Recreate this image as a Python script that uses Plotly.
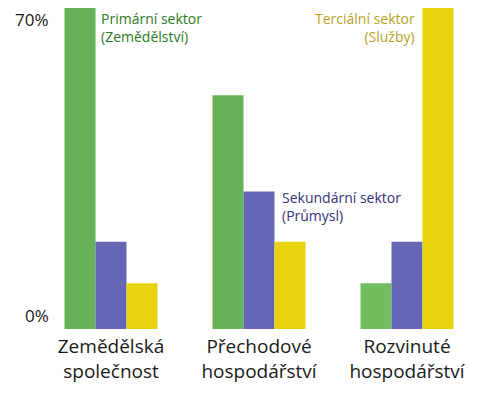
import plotly.graph_objects as go

categories = ["Zemědělská<br>společnost", "Přechodové<br>hospodářství", "Rozvinuté<br>hospodářství"]
primary = [70, 51, 10]
secondary = [19, 30, 19]
tertiary = [10, 19, 70]
series_names = ["Primární sektor<br>(Zemědělství)", "Sekundární sektor<br>(Průmysl)", "Terciální sektor<br>(Služby)"]
y_tick_labels = ["0%", "70%"]

FONT = "Open Sans"
fig = go.Figure()
fig.add_bar(x=categories, y=primary, name=series_names[0],
            marker=dict(color=["#65b257", "#65b257", "#72bc60"], line=dict(width=0)))
fig.add_bar(x=categories, y=secondary, name=series_names[1],
            marker=dict(color="#6667b4", line=dict(width=0)))
fig.add_bar(x=categories, y=tertiary, name=series_names[2],
            marker=dict(color="#e8d30e", line=dict(width=0)))

# y labels
fig.add_annotation(text=y_tick_labels[1], xref="paper", yref="y", x=0.029, y=70,
                   yshift=1, xanchor="right", yanchor="top", showarrow=False, borderpad=0,
                   font=dict(family=FONT, size=17, color="#1a1a1a"))
fig.add_annotation(text=y_tick_labels[0], xref="paper", yref="y", x=0.032, y=0,
                   xanchor="right", yanchor="bottom", showarrow=False,
                   font=dict(family=FONT, size=17, color="#1a1a1a"))

# series labels
fig.add_annotation(text=series_names[0], xref="x", yref="y", x=categories[0], y=70,
                   xshift=-11, yshift=0, xanchor="left", yanchor="top", align="left",
                   showarrow=False, borderpad=0,
                   font=dict(family=FONT, size=14, color="#2b7a26"))
fig.add_annotation(text=series_names[1], xref="x", yref="y", x=categories[1], y=30,
                   xshift=21, yshift=5, xanchor="left", yanchor="top", align="left", showarrow=False,
                   font=dict(family=FONT, size=14, color="#33317a"))
fig.add_annotation(text=series_names[2], xref="x", yref="y", x=categories[2], y=70,
                   xshift=9, yshift=0, xanchor="right", yanchor="top", align="right",
                   showarrow=False, borderpad=0,
                   font=dict(family=FONT, size=14, color="#b9a31e"))

# page body has an 8px margin; the figure is sized/offset to compensate
fig.update_layout(
    width=492, height=385,
    margin=dict(l=29, r=19, t=0, b=64, autoexpand=False),
    paper_bgcolor="white", plot_bgcolor="white",
    barmode="group", bargap=0.372, bargroupgap=0,
    showlegend=False,
    font=dict(family=FONT, color="#1a1a1a"),
    xaxis=dict(showgrid=False, zeroline=False, showline=False, ticks="", automargin=False,
               ticklabelstandoff=4,
               tickfont=dict(family=FONT, size=19, color="#1a1a1a")),
    yaxis=dict(range=[0, 70], showgrid=False, zeroline=False, showline=False, automargin=False,
               showticklabels=False, ticks=""),
)
fig.write_html("out.html")
